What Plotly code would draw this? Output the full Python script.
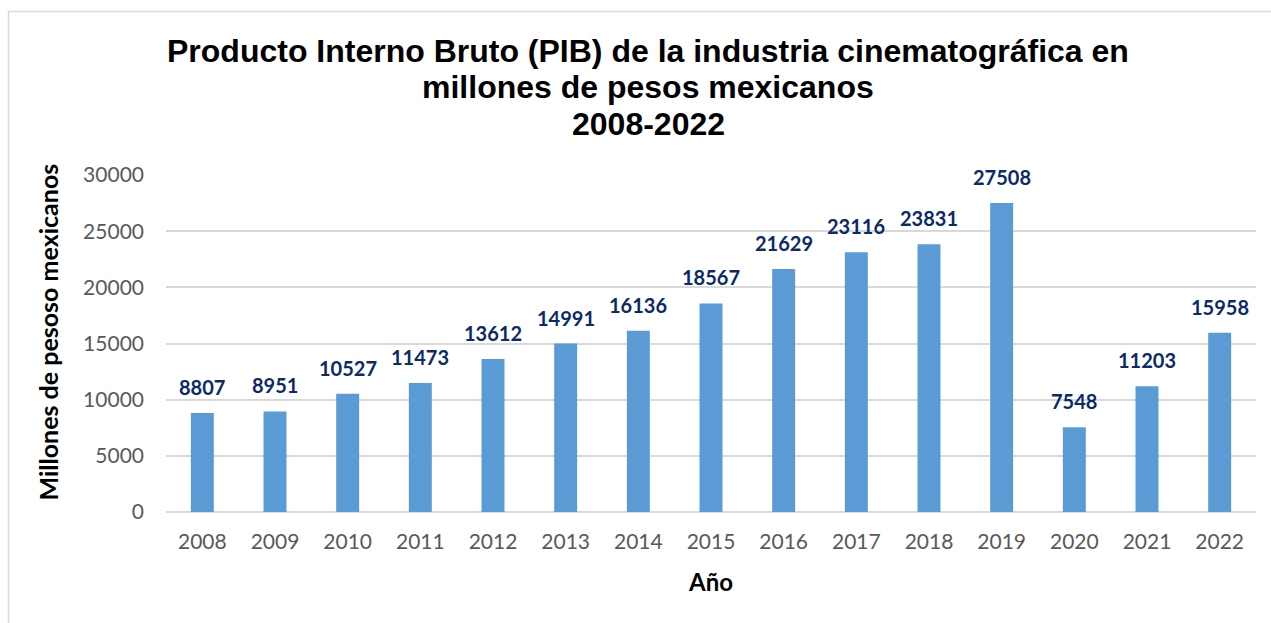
import plotly.graph_objects as go

years = ["2008", "2009", "2010", "2011", "2012", "2013", "2014", "2015",
         "2016", "2017", "2018", "2019", "2020", "2021", "2022"]
pib = [8807, 8951, 10527, 11473, 13612, 14991, 16136, 18567,
       21629, 23116, 23831, 27508, 7548, 11203, 15958]
y_ticks = [0, 5000, 10000, 15000, 20000, 25000, 30000]
title_lines = ["Producto Interno Bruto (PIB) de la industria cinematográfica en",
               "millones de pesos mexicanos",
               "2008-2022"]
x_title = "Año"
y_title = "Millones de pesoso mexicanos"

W, H = 1271, 623
L, R, T, B = 166, 15, 175, 111
pw, ph = W - L - R, H - T - B


def px_x(x):
    return (x - L) / pw


def px_y(y):
    return (H - B - y) / ph


fig = go.Figure()
fig.add_trace(go.Bar(
    x=years, y=pib,
    marker=dict(color="#5B9BD5", line=dict(width=0)),
    hoverinfo="x+y",
))

annotations = []
for i, v in enumerate(pib):
    annotations.append(dict(
        x=i, y=v, xref="x", yref="y", text=f"<b>{v}</b>", showarrow=False,
        yanchor="bottom", yshift=12,
        font=dict(family="Lato", size=20, color="#0B2A66"),
    ))

title_y_px = [51, 87, 124]
for line, ypx in zip(title_lines, title_y_px):
    annotations.append(dict(
        x=px_x(648), y=px_y(ypx), xref="paper", yref="paper",
        text=f"<b>{line}</b>", showarrow=False,
        xanchor="center", yanchor="middle",
        font=dict(family="Liberation Sans, Arial", size=32, color="#000000"),
    ))

annotations.append(dict(
    x=px_x(47), y=px_y(332.5), xref="paper", yref="paper",
    text=f"<b>{y_title}</b>", showarrow=False, textangle=-90,
    xanchor="center", yanchor="middle",
    font=dict(family="Lato", size=25, color="#000000"),
))

fig.update_layout(
    width=W, height=H,
    margin=dict(l=L, r=R, t=T, b=B, pad=0),
    paper_bgcolor="white", plot_bgcolor="white",
    showlegend=False,
    bargap=0.684,
    annotations=annotations,
    font=dict(family="Lato", color="#595959"),
    shapes=[dict(
        type="rect", xref="paper", yref="paper",
        x0=px_x(8.5), x1=px_x(1290), y0=px_y(640), y1=px_y(11.5),
        line=dict(color="#D9D9D9", width=1.5), fillcolor="rgba(0,0,0,0)",
        layer="below",
    )],
    xaxis=dict(
        type="category", categoryorder="array", categoryarray=years,
        range=[-0.5, len(years) - 0.5], autorange=False,
        tickfont=dict(family="Lato", size=21, color="#595959"),
        showgrid=False, showline=False, zeroline=False,
        ticks="", ticklabelstandoff=15,
        title=dict(text=f"<b>{x_title}</b>", standoff=22,
                   font=dict(family="Lato", size=24, color="#000000")),
    ),
    yaxis=dict(
        range=[0, 30000], autorange=False, tickvals=y_ticks, tickformat="d",
        tickfont=dict(family="Lato", size=21, color="#595959"),
        showgrid=True, gridcolor="#D9D9D9", gridwidth=1.5,
        zeroline=True, zerolinecolor="#D9D9D9", zerolinewidth=2,
        showline=False, ticks="", ticklabelstandoff=21,
        title=dict(text=""),
    ),
)

fig.write_html("out.html",
               config={"displayModeBar": False},
               post_script="document.body.style.margin='0';"
                           "document.body.style.padding='0';")
